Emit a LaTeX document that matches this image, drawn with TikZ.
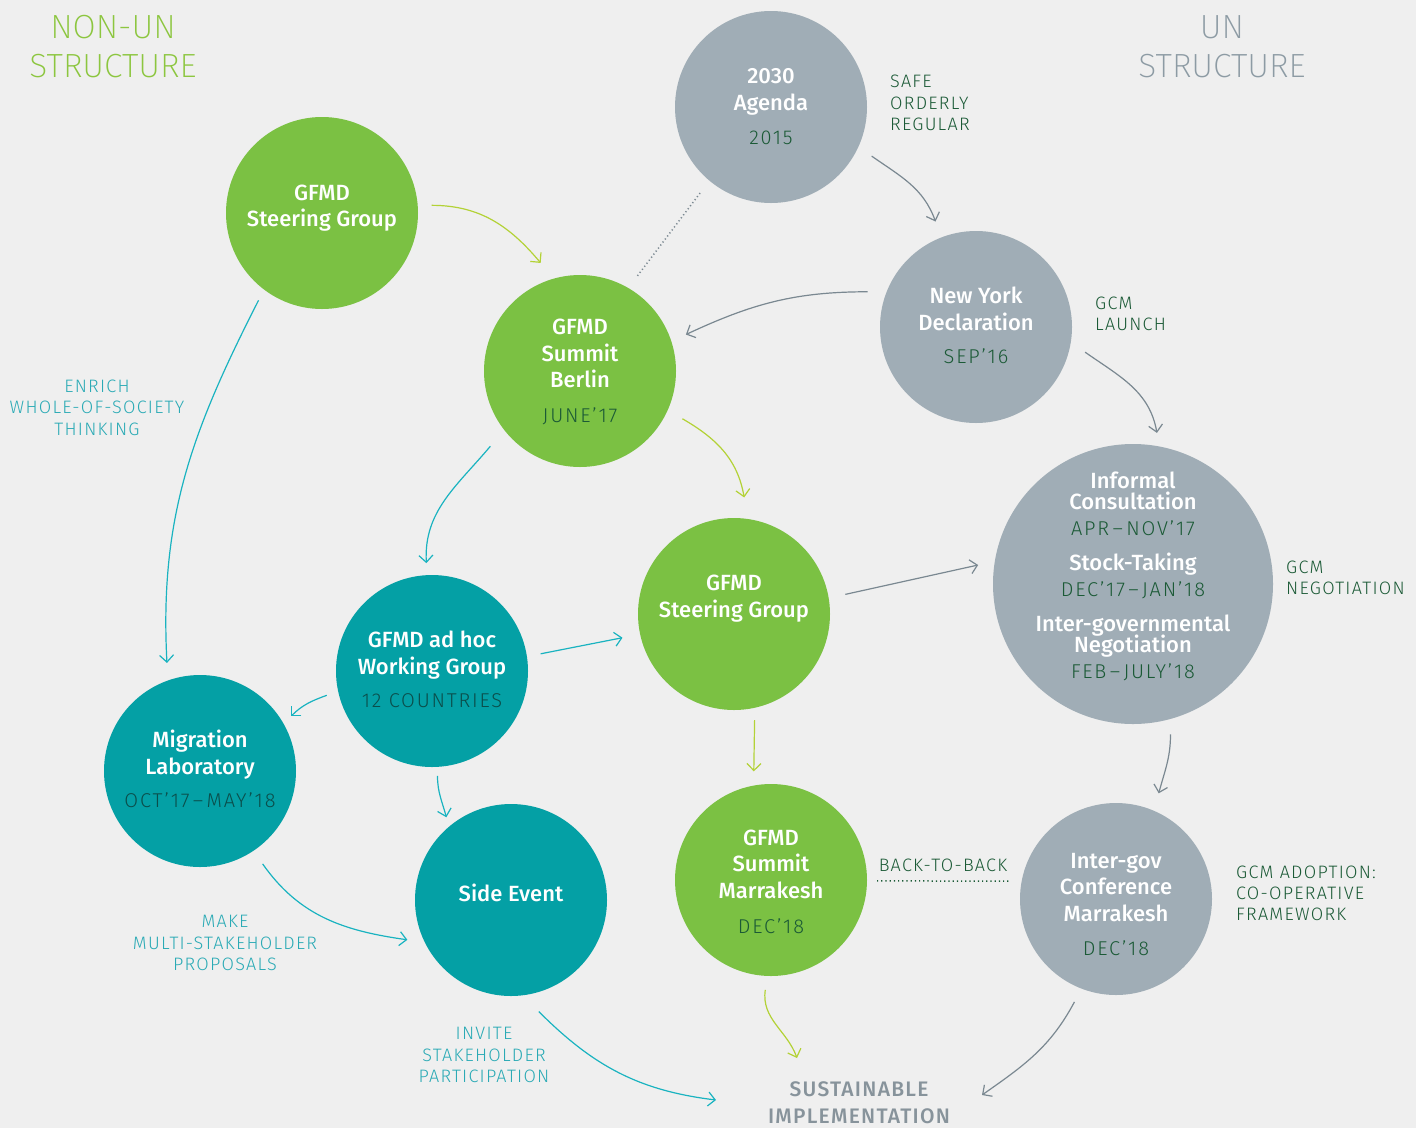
\documentclass[tikz,border=0pt]{standalone}
\usepackage{fontspec}
\setmainfont{Fira Sans}
\newfontfamily\medf{Fira Sans Medium}
\newfontfamily\lightf{Fira Sans Light}[LetterSpace=7]
\newfontfamily\datef{Fira Sans Light}[LetterSpace=9]
\newfontfamily\hdrf{Fira Sans ExtraLight}
\newfontfamily\boldsp{Fira Sans Medium}[LetterSpace=6]
\usetikzlibrary{arrows.meta,calc}
\definecolor{bgc}{HTML}{EFEFEF}
\definecolor{cgreen}{HTML}{7BC143}
\definecolor{cteal}{HTML}{04A0A5}
\definecolor{cgray}{HTML}{A0ADB6}
\definecolor{dkgreen}{HTML}{1B5A36}
\definecolor{dkteal}{HTML}{0B4E4B}
\definecolor{hdrgreen}{HTML}{8CC63F}
\definecolor{hdrgray}{HTML}{8D9BA4}
\definecolor{tealtxt}{HTML}{2AAAB5}
\definecolor{arrgreen}{HTML}{B3D236}
\definecolor{arrteal}{HTML}{19B3C0}
\definecolor{arrgray}{HTML}{7A8891}
\definecolor{susttxt}{HTML}{87939B}
\tikzset{
  circ/.style={circle, minimum size=192pt, inner sep=0pt, outer sep=0pt, draw=none},
  ttl/.style={font=\medf\fontsize{22}{22}\selectfont, text=white, inner sep=0pt, text height=15pt, text depth=0pt},
  dategr/.style={font=\datef\fontsize{20}{20}\selectfont, text=dkgreen, inner sep=0pt, text height=13.5pt, text depth=0pt},
  dateteal/.style={dategr, text=dkteal},
  lblg/.style={font=\lightf\fontsize{18}{18}\selectfont, text=dkgreen, inner sep=0pt, text height=12.5pt, text depth=0pt, anchor=west},
  lblt/.style={font=\lightf\fontsize{18}{18}\selectfont, text=tealtxt, inner sep=0pt, text height=12.5pt, text depth=0pt},
  hdr/.style={font=\hdrf\fontsize{33.5}{33.5}\selectfont, inner sep=0pt, text height=23pt, text depth=0pt},
  sust/.style={font=\boldsp\fontsize{21}{21}\selectfont, text=susttxt, inner sep=0pt, text height=14.5pt, text depth=0pt},
  arr/.style={line width=1.2pt, -{Straight Barb[length=7pt,width=14pt]}},
  ga/.style={arr, draw=arrgreen},
  ta/.style={arr, draw=arrteal},
  ya/.style={arr, draw=arrgray}
}
\begin{document}
\begin{tikzpicture}[x=1pt,y=1pt]
\fill[bgc] (0,0) rectangle (1416,-1128);
\useasboundingbox (0,0) rectangle (1416,-1128);

% headers
\node[hdr, text=hdrgreen] (h1a) at (113,-27) {NON-UN};
\node[hdr, text=hdrgreen] (h1b) at (113,-66) {STRUCTURE};
\node[hdr, text=hdrgray] (h2a) at (1222,-27) {UN};
\node[hdr, text=hdrgray] (h2b) at (1222,-66) {STRUCTURE};

% circles
\node[circ, fill=cgray]  (agenda) at (771,-107) {};
\node[circ, fill=cgreen] (sg1)    at (322,-213) {};
\node[circ, fill=cgreen] (berlin) at (580,-371) {};
\node[circ, fill=cgray]  (ny)     at (976,-327) {};
\node[circ, fill=cgray, minimum size=280pt] (inf) at (1133,-584) {};
\node[circ, fill=cgreen] (sgm)    at (734,-614) {};
\node[circ, fill=cteal]  (adhoc)  at (432,-671) {};
\node[circ, fill=cteal]  (mig)    at (200,-771) {};
\node[circ, fill=cteal]  (side)   at (511,-900) {};
\node[circ, fill=cgreen] (mar)    at (771,-880) {};
\node[circ, fill=cgray]  (igc)    at (1116,-899) {};

% texts in circles
\node[ttl] (agt1) at (771,-76) {2030};
\node[ttl] (agt2) at (771,-103) {Agenda};
\node[dategr] (agt3) at (771,-138) {2015};

\node[ttl] (sgt1) at (322,-193) {GFMD};
\node[ttl] (sgt2) at (322,-219) {Steering Group};

\node[ttl] (bet1) at (580,-327) {GFMD};
\node[ttl] (bet2) at (580,-354) {Summit};
\node[ttl] (bet3) at (580,-380) {Berlin};
\node[dategr] (bet4) at (580,-416) {JUNE’17};

\node[ttl] (nyt1) at (976,-296) {New York};
\node[ttl] (nyt2) at (976,-323) {Declaration};
\node[dategr] (nyt3) at (976,-357) {SEP’16};

\node[ttl] (inft1) at (1133,-481) {Informal};
\node[ttl] (inft2) at (1133,-502) {Consultation};
\node[dategr] (inft3) at (1133,-529) {APR\,–\,NOV’17};
\node[ttl] (inft4) at (1133,-563) {Stock-Taking};
\node[dategr] (inft5) at (1133,-590) {DEC’17\,–\,JAN’18};
\node[ttl] (inft6) at (1133,-624) {Inter-governmental};
\node[ttl] (inft7) at (1133,-645) {Negotiation};
\node[dategr] (inft8) at (1133,-672) {FEB\,–\,JULY’18};

\node[ttl] (sgmt1) at (734,-583) {GFMD};
\node[ttl] (sgmt2) at (734,-610) {Steering Group};

\node[ttl] (adt1) at (432,-640) {GFMD ad hoc};
\node[ttl] (adt2) at (432,-667) {Working Group};
\node[dateteal] (adt3) at (432,-701) {12 COUNTRIES};

\node[ttl] (mgt1) at (200,-740) {Migration};
\node[ttl] (mgt2) at (200,-767) {Laboratory};
\node[dateteal] (mgt3) at (200,-801) {OCT’17\,–\,MAY’18};

\node[ttl] (sdt1) at (511,-894) {Side Event};

\node[ttl] (mrt1) at (771,-838) {GFMD};
\node[ttl] (mrt2) at (771,-864) {Summit};
\node[ttl] (mrt3) at (771,-891) {Marrakesh};
\node[dategr] (mrt4) at (771,-927) {DEC’18};

\node[ttl] (igt1) at (1116,-861) {Inter-gov};
\node[ttl] (igt2) at (1116,-887) {Conference};
\node[ttl] (igt3) at (1116,-914) {Marrakesh};
\node[dategr] (igt4) at (1116,-949) {DEC’18};

% outer labels
\node[lblg] (l1a) at (890,-81) {SAFE};
\node[lblg] (l1b) at (890,-103) {ORDERLY};
\node[lblg] (l1c) at (890,-124) {REGULAR};
\node[lblg] (l2a) at (1095,-303) {GCM};
\node[lblg] (l2b) at (1095,-324) {LAUNCH};
\node[lblg] (l3a) at (1286,-567) {GCM};
\node[lblg] (l3b) at (1286,-588) {NEGOTIATION};
\node[lblg] (l4a) at (1236,-872) {GCM ADOPTION:};
\node[lblg] (l4b) at (1236,-893) {CO-OPERATIVE};
\node[lblg] (l4c) at (1236,-914) {FRAMEWORK};
\node[lblg, anchor=center] (b2b) at (943,-865) {BACK-TO-BACK};

\node[lblt] (t1a) at (97,-386) {ENRICH};
\node[lblt] (t1b) at (97,-407) {WHOLE-OF-SOCIETY};
\node[lblt] (t1c) at (97,-429) {THINKING};
\node[lblt] (t2a) at (225,-921) {MAKE};
\node[lblt] (t2b) at (225,-943) {MULTI-STAKEHOLDER};
\node[lblt] (t2c) at (225,-964) {PROPOSALS};
\node[lblt] (t3a) at (484,-1033) {INVITE};
\node[lblt] (t3b) at (484,-1055) {STAKEHOLDER};
\node[lblt] (t3c) at (484,-1076) {PARTICIPATION};

\node[sust] (s1) at (859,-1089) {SUSTAINABLE};
\node[sust] (s2) at (859,-1116) {IMPLEMENTATION};

\coordinate (e15) at (797,-1058);
\coordinate (e16) at (716,-1100);
\coordinate (e17) at (982,-1095);

% dotted links
\draw[arrgray, line width=1.5pt, dash pattern=on 1.2pt off 2.6pt] ($(agenda)+(-129.5:111.5)$) -- ($(berlin)+(59:109)$);
\draw[dkgreen, line width=1.5pt, dash pattern=on 1.2pt off 3pt] ($(mar)+(-0.5:106)$) -- ($(igc)+(170.4:107.5)$);

% arrows
\draw[ga] ($(sg1)+(4:110)$) to[out=0,in=130] ($(berlin)+(110:115)$);
\draw[ya] ($(agenda)+(-26:112)$) to[out=-35,in=110] ($(ny)+(111:113)$);
\draw[ya] ($(ny)+(162:114)$) to[out=180,in=25] ($(berlin)+(19:112)$);
\draw[ya] ($(ny)+(-13:112)$) to[out=-35,in=100] ($(inf)+(81:153)$);
\draw[ga] ($(berlin)+(-25:113)$) to[out=-30,in=100] ($(sgm)+(85:117)$);
\draw[ta] ($(berlin)+(-140:117)$) to[out=-130,in=93] ($(adhoc)+(93:108)$);
\draw[ta] ($(sg1)+(-126:108)$) to[out=-117,in=93] ($(mig)+(107:113)$);
\draw[ta] ($(adhoc)+(9:110)$) -- ($(sgm)+(-168:114)$);
\draw[ta] ($(adhoc)+(-167:108)$) to[out=200,in=45] ($(mig)+(31:106)$);
\draw[ta] ($(adhoc)+(-87:105)$) to[out=-90,in=105] ($(side)+(128:105)$);
\draw[ta] ($(mig)+(-56:112)$) to[out=-55,in=172] ($(side)+(-159:111)$);
\draw[ya] ($(sgm)+(10:113)$) -- ($(inf)+(173:156)$);
\draw[ga] ($(sgm)+(-79:108)$) -- ($(mar)+(99:110)$);
\draw[ya] ($(inf)+(-76:155)$) to[out=-90,in=75] ($(igc)+(68:114)$);
\draw[ga] ($(mar)+(-93:110)$) to[out=-98,in=110] (e15);
\draw[ta] ($(side)+(-76:115)$) to[out=-45,in=173] (e16);
\draw[ya] ($(igc)+(-112:111)$) to[out=-118,in=35] (e17);
\end{tikzpicture}
\end{document}
